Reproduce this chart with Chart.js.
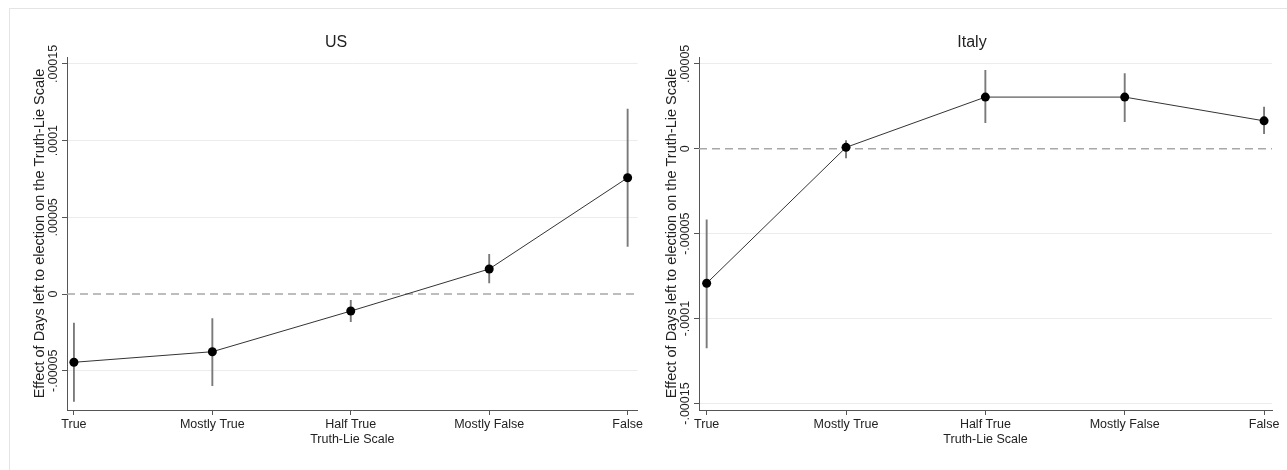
<!DOCTYPE html>
<html>
<head>
<meta charset="utf-8">
<script src="https://cdn.jsdelivr.net/npm/chart.js@4/dist/chart.umd.min.js"></script>
<style>
  html, body { margin: 0; padding: 0; background: #fff; }
  body { width: 1287px; height: 470px; position: relative; overflow: hidden; }
  #frame { position: absolute; left: 9px; top: 8px; width: 1300px; height: 480px; border: 1px solid #e4e4e4; box-sizing: border-box; }
  #usWrap { position: absolute; left: 0; top: 0; width: 645px; height: 470px; }
  #itWrap { position: absolute; left: 645px; top: 0; width: 642px; height: 470px; }
</style>
</head>
<body>
<div id="frame"></div>
<div id="usWrap"><canvas id="us"></canvas></div>
<div id="itWrap"><canvas id="it"></canvas></div>
<script>
// ---- data ----
const categories = ['True', 'Mostly True', 'Half True', 'Mostly False', 'False'];
const categoryPositions = [1, 2, 3, 4, 5];

const usEstimate = [-0.0000445, -0.0000376, -0.0000111, 0.0000163, 0.0000758];
const usLower    = [-0.0000702, -0.0000600, -0.0000183, 0.0000070, 0.0000308];
const usUpper    = [-0.0000187, -0.0000158, -0.0000039, 0.0000261, 0.0001208];

const itEstimate = [-0.0000792, 0.0000008, 0.0000304, 0.0000304, 0.0000164];
const itLower    = [-0.0001174, -0.0000056, 0.0000151, 0.0000158, 0.0000086];
const itUpper    = [-0.0000416, 0.0000050, 0.0000463, 0.0000444, 0.0000247];

const usTickValues = [-0.00005, 0, 0.00005, 0.0001, 0.00015];
const usTickLabels = ['-.00005', '0', '.00005', '.0001', '.00015'];
const itTickValues = [-0.00015, -0.0001, -0.00005, 0, 0.00005];
const itTickLabels = ['-.00015', '-.0001', '-.00005', '0', '.00005'];

const FONT = "'Liberation Sans', Arial, sans-serif";
const TEXT = '#222';

function buildChart(canvasId, cfg) {
  const pts = categoryPositions.map((x, i) => ({ x: x, y: cfg.est[i] }));
  const bars = [];
  categoryPositions.forEach((x, i) => {
    bars.push({ x: x, y: cfg.lo[i] });
    bars.push({ x: x, y: cfg.hi[i] });
    bars.push({ x: x, y: null });
  });
  const zero = [{ x: cfg.xMin, y: 0 }, { x: cfg.xMax, y: 0 }];

  const titlePlugin = {
    id: 'panelTitle',
    afterDraw(chart) {
      const ctx = chart.ctx;
      ctx.save();
      ctx.font = '16px ' + FONT;
      ctx.fillStyle = TEXT;
      ctx.textAlign = 'center';
      ctx.textBaseline = 'middle';
      ctx.fillText(cfg.title, cfg.titleX, 43);
      ctx.restore();
    }
  };

  return new Chart(document.getElementById(canvasId), {
    type: 'line',
    data: {
      datasets: [
        { data: pts, borderColor: '#333', borderWidth: 1, pointRadius: 4.5, pointHoverRadius: 4.5,
          pointBackgroundColor: '#000', pointBorderColor: '#000', pointBorderWidth: 0, tension: 0, fill: false },
        { data: bars, borderColor: '#7a7a7a', borderWidth: 1.9, pointRadius: 0, spanGaps: false, fill: false },
        { data: zero, borderColor: '#a8a8a8', borderWidth: 1.3, borderDash: [8, 5], pointRadius: 0, fill: false }
      ]
    },
    options: {
      responsive: false,
      animation: false,
      events: [],
      layout: { padding: { top: 57, left: 0, right: cfg.padRight, bottom: 0 } },
      plugins: { legend: { display: false }, tooltip: { enabled: false }, title: { display: false } },
      scales: {
        x: {
          type: 'linear',
          min: cfg.xMin, max: cfg.xMax,
          afterBuildTicks: (s) => { s.ticks = categoryPositions.map(v => ({ value: v })); },
          afterFit: (s) => { s.height = 60; },
          ticks: {
            callback: (v) => categories[categoryPositions.indexOf(v)],
            font: { family: FONT, size: 12.5 }, color: TEXT, padding: 2,
            maxRotation: 0, minRotation: 0, autoSkip: false
          },
          grid: { drawOnChartArea: false, drawTicks: true, tickLength: 5, tickColor: '#555', tickWidth: 1 },
          border: { display: true, color: '#555', width: 1 },
          title: { display: true, text: 'Truth-Lie Scale', font: { family: FONT, size: 12.5 }, color: TEXT,
                   padding: { top: 0, bottom: 22.5 } }
        },
        y: {
          type: 'linear',
          min: cfg.yMin, max: cfg.yMax,
          afterBuildTicks: (s) => { s.ticks = cfg.tickValues.map(v => ({ value: v })); },
          afterFit: (s) => { s.width = cfg.yWidth; },
          ticks: {
            callback: (v) => { const i = cfg.tickValues.findIndex(t => Math.abs(t - v) < 1e-12); return i >= 0 ? cfg.tickLabels[i] : ''; },
            font: { family: FONT, size: 12.5 }, color: TEXT,
            minRotation: 90, maxRotation: 90, crossAlign: 'center', padding: -12.5, autoSkip: false
          },
          grid: {
            color: (c) => (c.tick && Math.abs(c.tick.value) < 1e-12) ? 'rgba(0,0,0,0)' : '#ececec',
            lineWidth: 1, drawTicks: true, tickLength: 5, tickColor: '#555', tickWidth: 1
          },
          border: { display: true, color: '#555', width: 1 },
          title: { display: true, text: 'Effect of Days left to election on the Truth-Lie Scale',
                   font: { family: FONT, size: 14.5 }, color: TEXT, padding: { top: cfg.yTitlePad, bottom: 0 } }
        }
      }
    },
    plugins: [titlePlugin]
  });
}

const usCanvas = document.getElementById('us');
usCanvas.width = 645; usCanvas.height = 470;
usCanvas.style.width = '645px'; usCanvas.style.height = '470px';
const itCanvas = document.getElementById('it');
itCanvas.width = 642; itCanvas.height = 470;
itCanvas.style.width = '642px'; itCanvas.style.height = '470px';

buildChart('us', {
  title: 'US', titleX: 336,
  est: usEstimate, lo: usLower, hi: usUpper,
  xMin: 0.95, xMax: 5.072,
  yMin: -0.0000756, yMax: 0.0001545,
  tickValues: usTickValues, tickLabels: usTickLabels,
  yWidth: 67, yTitlePad: 31.3, padRight: 5
});

buildChart('it', {
  title: 'Italy', titleX: 327,
  est: itEstimate, lo: itLower, hi: itUpper,
  xMin: 0.945, xMax: 5.057,
  yMin: -0.0001538, yMax: 0.000054,
  tickValues: itTickValues, tickLabels: itTickLabels,
  yWidth: 54, yTitlePad: 18.3, padRight: 15
});
</script>
</body>
</html>
